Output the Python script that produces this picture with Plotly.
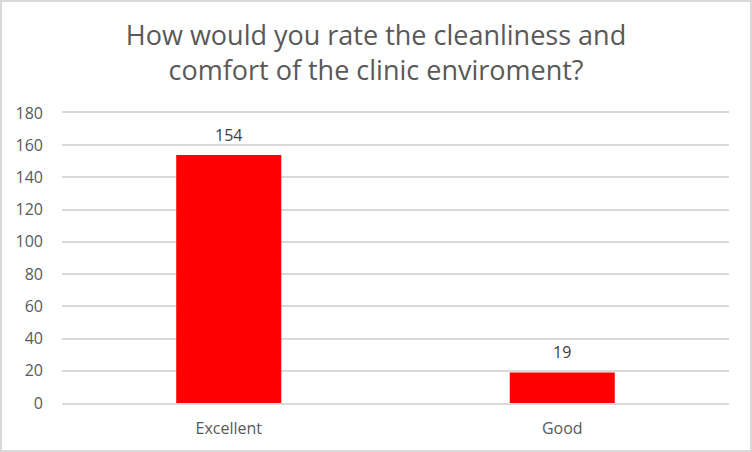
import plotly.graph_objects as go

# survey answers
categories = ["Excellent", "Good"]
counts = [154, 19]

W, H = 752, 452
ML, MR, MT, MB = 62, 23, 113, 49
pw = W - ML - MR
ph = H - MT - MB

FONT = "Open Sans, sans-serif"

fig = go.Figure(
    go.Bar(
        x=categories,
        y=counts,
        marker=dict(color="#ff0000", line=dict(width=0)),
        width=0.315,
        hoverinfo="x+y",
    )
)

# value labels sit a bit higher above the bars than plotly's "outside" text
for cat, val in zip(categories, counts):
    fig.add_annotation(
        x=cat, y=val, text=str(val), showarrow=False,
        yanchor="middle", yshift=20,
        font=dict(size=16, color="#404040", family=FONT),
    )

fig.update_layout(
    width=W,
    height=H,
    margin=dict(l=ML, r=MR, t=MT, b=MB),
    paper_bgcolor="white",
    plot_bgcolor="white",
    font=dict(family=FONT, color="#595959", size=16),
    title=dict(
        text="How would you rate the cleanliness and<br>comfort of the clinic enviroment?",
        x=0.5,
        xanchor="center",
        y=1 - 45 / H,
        yanchor="middle",
        font=dict(size=27, color="#595959", family=FONT),
    ),
    showlegend=False,
    shapes=[
        dict(
            type="rect",
            xref="paper",
            yref="paper",
            x0=-(ML - 1) / pw,
            x1=1 + (MR - 1) / pw,
            y0=-(MB - 1) / ph,
            y1=1 + (MT - 1) / ph,
            line=dict(color="#d9d9d9", width=2),
            fillcolor="rgba(0,0,0,0)",
            layer="below",
        )
    ],
)

fig.update_yaxes(
    range=[0, 180],
    dtick=20,
    showgrid=True,
    gridcolor="#d9d9d9",
    gridwidth=1.5,
    zeroline=False,
    showline=False,
    ticks="",
    ticklabelstandoff=18,
    tickfont=dict(size=16, color="#595959"),
)
fig.update_xaxes(
    showline=True,
    mirror=True,
    linecolor="#d9d9d9",
    linewidth=1.5,
    ticks="",
    ticklabelstandoff=10,
    tickfont=dict(size=16, color="#595959"),
)

fig.write_html(
    "out.html",
    config={"displayModeBar": False},
    post_script="document.body.style.margin='0';",
)
